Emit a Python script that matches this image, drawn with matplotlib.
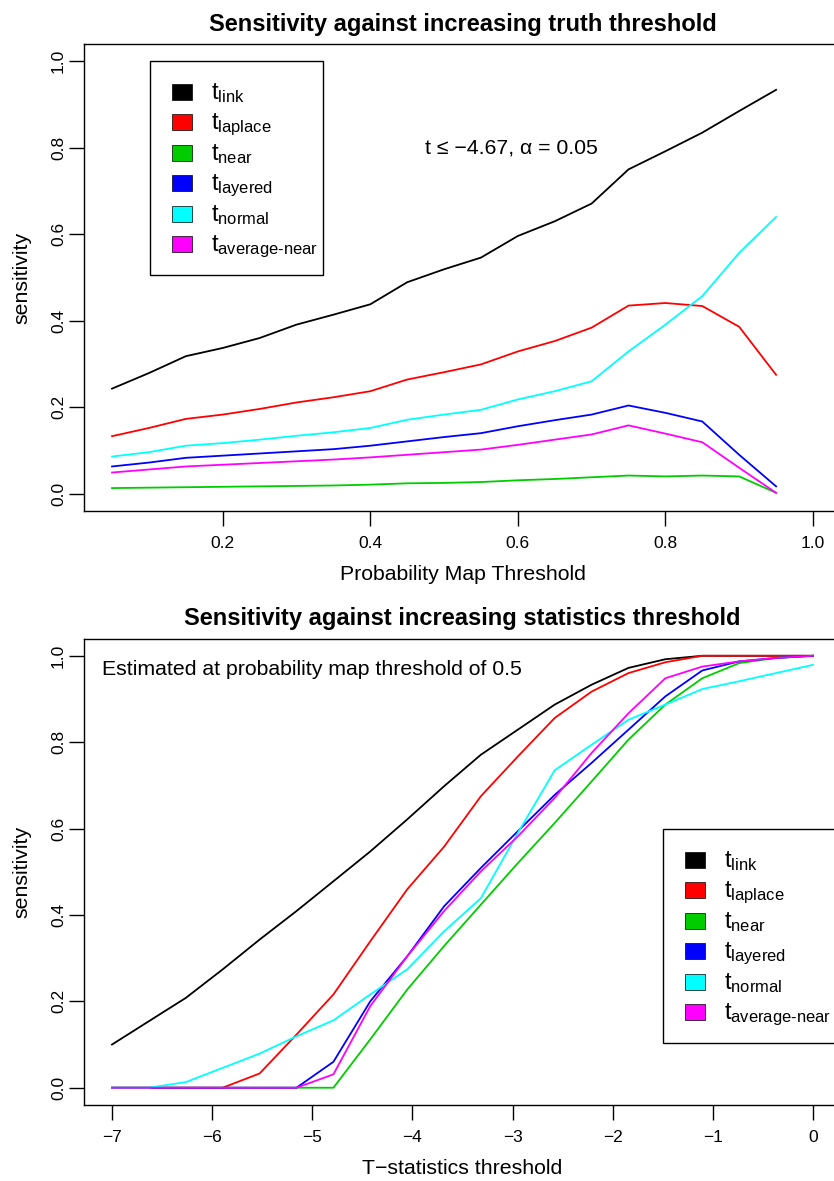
import matplotlib
matplotlib.use('Agg')
import matplotlib.pyplot as plt
from matplotlib.patches import Rectangle
import numpy as np

plt.rcParams['font.family'] = ['Liberation Sans', 'DejaVu Sans']
plt.rcParams['mathtext.fontset'] = 'custom'
plt.rcParams['mathtext.rm'] = 'Liberation Sans'
plt.rcParams['mathtext.it'] = 'Liberation Sans:italic'
plt.rcParams['mathtext.bf'] = 'Liberation Sans:bold'

# ---- data: top panel (sensitivity vs probability map threshold) ----
prob_thr = [0.05, 0.10, 0.15, 0.20, 0.25, 0.30, 0.35, 0.40, 0.45, 0.50,
            0.55, 0.60, 0.65, 0.70, 0.75, 0.80, 0.85, 0.90, 0.95]
top_link = [0.243, 0.279, 0.318, 0.337, 0.360, 0.391, 0.414, 0.438, 0.489, 0.519,
            0.546, 0.596, 0.630, 0.671, 0.750, 0.792, 0.835, 0.885, 0.934]
top_laplace = [0.133, 0.152, 0.173, 0.183, 0.196, 0.211, 0.223, 0.237, 0.264, 0.281,
               0.299, 0.329, 0.353, 0.384, 0.435, 0.441, 0.434, 0.386, 0.275]
top_near = [0.013, 0.014, 0.015, 0.016, 0.017, 0.018, 0.019, 0.021, 0.024, 0.025,
            0.027, 0.031, 0.034, 0.038, 0.042, 0.040, 0.042, 0.040, 0.002]
top_layered = [0.063, 0.072, 0.083, 0.088, 0.093, 0.098, 0.103, 0.111, 0.121, 0.131,
               0.140, 0.156, 0.170, 0.183, 0.204, 0.187, 0.167, 0.090, 0.017]
top_normal = [0.086, 0.096, 0.111, 0.117, 0.125, 0.134, 0.142, 0.152, 0.171, 0.183,
              0.194, 0.218, 0.237, 0.260, 0.329, 0.391, 0.457, 0.557, 0.640]
top_avgnear = [0.049, 0.056, 0.063, 0.067, 0.071, 0.075, 0.079, 0.084, 0.090, 0.096,
               0.102, 0.113, 0.125, 0.137, 0.158, 0.139, 0.119, 0.060, 0.002]

# ---- data: bottom panel (sensitivity vs T-statistics threshold) ----
t_thr = [-7.000, -6.632, -6.263, -5.895, -5.526, -5.158, -4.789, -4.421, -4.053, -3.684,
         -3.316, -2.947, -2.579, -2.211, -1.842, -1.474, -1.105, -0.737, -0.368, 0.000]
bot_link = [0.100, 0.154, 0.208, 0.274, 0.343, 0.409, 0.478, 0.547, 0.621, 0.698,
            0.771, 0.829, 0.887, 0.933, 0.972, 0.992, 1.000, 1.000, 1.000, 1.000]
bot_laplace = [0.0, 0.0, 0.0, 0.0, 0.033, 0.123, 0.216, 0.339, 0.459, 0.558,
               0.675, 0.767, 0.856, 0.917, 0.960, 0.985, 1.000, 1.000, 1.000, 1.000]
bot_near = [0.0, 0.0, 0.0, 0.0, 0.0, 0.0, 0.0, 0.112, 0.227, 0.328,
            0.424, 0.520, 0.613, 0.709, 0.806, 0.887, 0.948, 0.983, 0.995, 1.000]
bot_layered = [0.0, 0.0, 0.0, 0.0, 0.0, 0.0, 0.060, 0.200, 0.304, 0.420,
               0.509, 0.594, 0.678, 0.752, 0.829, 0.906, 0.966, 0.987, 0.995, 1.000]
bot_normal = [0.0, 0.0, 0.013, 0.046, 0.079, 0.119, 0.156, 0.216, 0.274, 0.362,
              0.439, 0.590, 0.735, 0.794, 0.852, 0.887, 0.923, 0.941, 0.960, 0.979]
bot_avgnear = [0.0, 0.0, 0.0, 0.0, 0.0, 0.0, 0.031, 0.189, 0.304, 0.409,
               0.501, 0.582, 0.671, 0.775, 0.867, 0.948, 0.975, 0.987, 0.995, 1.000]

colors = ['black', '#FF0000', '#00CD00', '#0000FF', '#00FFFF', '#FF00FF']
labels = [r'$\mathregular{t}_{\mathregular{link}}$',
          r'$\mathregular{t}_{\mathregular{laplace}}$',
          r'$\mathregular{t}_{\mathregular{near}}$',
          r'$\mathregular{t}_{\mathregular{layered}}$',
          r'$\mathregular{t}_{\mathregular{normal}}$',
          r'$\mathregular{t}_{\text{average-near}}$']

W, H = 834, 1181
fig = plt.figure(figsize=(W / 100, H / 100), dpi=100)
ax1 = fig.add_axes([84 / W, 1 - 511 / H, 757 / W, 467 / H])
ax2 = fig.add_axes([84 / W, 1 - 1105 / H, 757 / W, 466.5 / H])


def px(x, y):
    # figure pixel coords (from top-left) -> figure fraction
    return x / W, 1 - y / H


def style_axes(ax):
    for s in ax.spines.values():
        s.set_linewidth(1.0)
    ax.tick_params(direction='out', length=11, width=1.0, labelsize=12.5)
    ax.tick_params(axis='x', pad=7)
    ax.tick_params(axis='y', pad=2)
    ax.set_yticks([0.0, 0.2, 0.4, 0.6, 0.8, 1.0])
    ax.set_yticklabels(['0.0', '0.2', '0.4', '0.6', '0.8', '1.0'],
                       rotation=90, va='center')
    ax.set_ylim(-0.04, 1.04)


def draw_legend(left, top, width=173, height=214):
    # R-style legend box: filled squares + t with subscript
    fig.add_artist(Rectangle(px(left, top + height), width / W, height / H,
                             transform=fig.transFigure, facecolor='white',
                             edgecolor='black', linewidth=1.0, zorder=5))
    for i, (c, lab) in enumerate(zip(colors, labels)):
        yc = top + 31 + 30.4 * i
        fig.add_artist(Rectangle(px(left + 22, yc + 8), 20 / W, 16 / H,
                                 transform=fig.transFigure, facecolor=c,
                                 edgecolor='black', linewidth=0.5, zorder=6))
        fig.text(*px(left + 61, yc + 7), lab, fontsize=17, ha='left',
                 va='baseline', zorder=7)


# top panel
top_series = [top_link, top_laplace, top_near, top_layered, top_normal, top_avgnear]
for vals, c in zip(top_series, colors):
    ax1.plot(prob_thr, vals, color=c, lw=1.3)
style_axes(ax1)
ax1.set_xlim(0.012, 1.038)
ax1.set_xticks([0.2, 0.4, 0.6, 0.8, 1.0])
ax1.set_xticklabels(['0.2', '0.4', '0.6', '0.8', '1.0'])
ax1.set_title('Sensitivity against increasing truth threshold',
              fontsize=17, fontweight='bold', pad=9.5)
ax1.set_xlabel('Probability Map Threshold', fontsize=15.3)
ax1.xaxis.set_label_coords(0.5, -(574 - 511) / 467)
ax1.xaxis.label.set_va('center')
ax1.set_ylabel('sensitivity', fontsize=15.3)
ax1.yaxis.set_label_coords(-(84 - 22) / 757, 0.5)
ax1.yaxis.label.set_va('center')
ax1.text(0.591, 0.80, 't ≤ −4.67, α = 0.05', fontsize=15.3, ha='center', va='center')
draw_legend(150, 61)

# bottom panel
bot_series = [bot_link, bot_laplace, bot_near, bot_layered, bot_normal, bot_avgnear]
for vals, c in zip(bot_series, colors):
    ax2.plot(t_thr, vals, color=c, lw=1.3)
style_axes(ax2)
ax2.set_xlim(-7.28, 0.28)
ax2.set_xticks(np.arange(-7, 1, 1))
ax2.set_xticklabels(['−7', '−6', '−5', '−4', '−3', '−2', '−1', '0'])
ax2.set_title('Sensitivity against increasing statistics threshold',
              fontsize=17, fontweight='bold', pad=10)
ax2.set_xlabel('T−statistics threshold', fontsize=15.3)
ax2.xaxis.set_label_coords(0.5, -(1168 - 1105) / 466.5)
ax2.xaxis.label.set_va('center')
ax2.set_ylabel('sensitivity', fontsize=15.3)
ax2.yaxis.set_label_coords(-(84 - 22) / 757, 0.5)
ax2.yaxis.label.set_va('center')
ax2.text(-7.10, 0.968, 'Estimated at probability map threshold of 0.5',
         fontsize=15.3, ha='left', va='center')
draw_legend(663, 829)

fig.savefig('out.png', dpi=100)
